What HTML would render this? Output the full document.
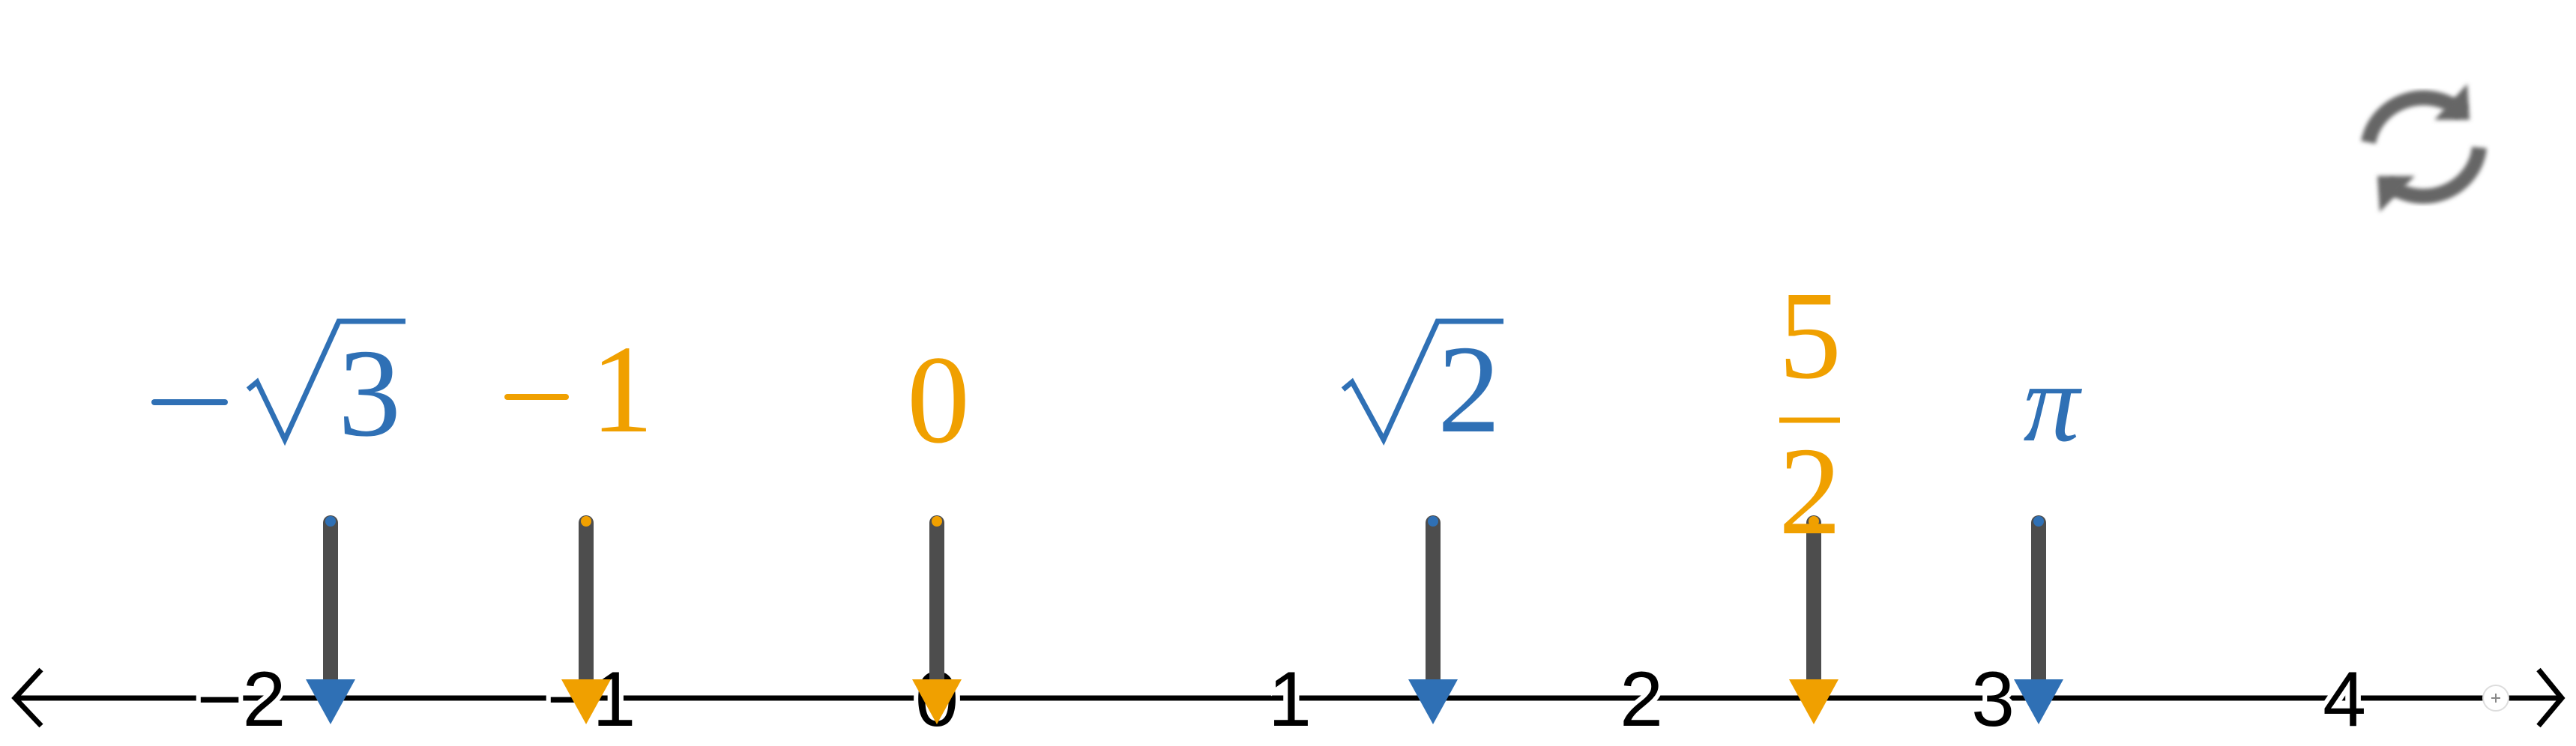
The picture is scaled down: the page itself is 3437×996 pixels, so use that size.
<!DOCTYPE html>
<html><head><meta charset="utf-8"><style>
html,body{margin:0;padding:0;background:#fff;}
svg{display:block}
</style></head><body>
<svg width="3437" height="996" viewBox="0 0 3437 996" xmlns="http://www.w3.org/2000/svg">
<rect width="3437" height="996" fill="#fff"/>
<!-- refresh icon -->
<g fill="none" stroke="#666" stroke-width="20" filter="url(#bl)">
<path d="M3160 190 A75 72 0 0 1 3285 150"/>
<path d="M3308 197 A75 72 0 0 1 3185 245"/>
</g>
<g fill="#666" filter="url(#bl)">
<polygon points="3292,112 3295,160 3248,160"/>
<polygon points="3175,283 3172,235 3222,235"/>
</g>
<defs><filter id="bl"><feGaussianBlur stdDeviation="3"/></filter></defs>
<!-- axis -->
<line x1="20" y1="932" x2="3418" y2="932" stroke="#000" stroke-width="7"/>
<polyline points="55,894 20,932 55,969" fill="none" stroke="#000" stroke-width="7"/>
<polyline points="3387,894 3418,932 3387,969" fill="none" stroke="#000" stroke-width="7"/>
<circle cx="3330" cy="932" r="17" fill="#fff" stroke="#ddd" stroke-width="2"/>
<g stroke="#888" stroke-width="2"><line x1="3324" y1="932" x2="3336" y2="932"/><line x1="3330" y1="926" x2="3330" y2="938"/></g>
<!-- tick labels -->
<g font-family="Liberation Sans, sans-serif" font-size="104" text-anchor="middle" fill="#000" stroke="#fff" stroke-width="12" paint-order="stroke" >
<text x="322" y="969">−2</text>
<text x="789" y="969">−1</text>
<text x="1250" y="969">0</text>
<text x="1721" y="969">1</text>
<text x="2190" y="969">2</text>
<text x="2659" y="969">3</text>
<text x="3128" y="969">4</text>
</g>
<!-- sticks -->
<g stroke="#4d4d4d" stroke-width="20" stroke-linecap="round">
<line x1="441" y1="698" x2="441" y2="912"/>
<line x1="782" y1="698" x2="782" y2="912"/>
<line x1="1250" y1="698" x2="1250" y2="912"/>
<line x1="1912" y1="698" x2="1912" y2="912"/>
<line x1="2420" y1="698" x2="2420" y2="912"/>
<line x1="2720" y1="698" x2="2720" y2="912"/>
</g>
<circle cx="441" cy="696" r="7" fill="#2f70b5"/>
<circle cx="782" cy="696" r="7" fill="#f0a000"/>
<circle cx="1250" cy="696" r="7" fill="#f0a000"/>
<circle cx="1912" cy="696" r="7" fill="#2f70b5"/>
<circle cx="2420" cy="696" r="7" fill="#f0a000"/>
<circle cx="2720" cy="696" r="7" fill="#2f70b5"/>
<polygon points="408,907 474,907 441,967" fill="#2f70b5"/>
<polygon points="749,907 815,907 782,967" fill="#f0a000"/>
<polygon points="1217,907 1283,907 1250,967" fill="#f0a000"/>
<polygon points="1879,907 1945,907 1912,967" fill="#2f70b5"/>
<polygon points="2387,907 2453,907 2420,967" fill="#f0a000"/>
<polygon points="2687,907 2753,907 2720,967" fill="#2f70b5"/>
<!-- math labels -->
<g font-family="Liberation Serif, serif" font-size="168">
<!-- -sqrt3 -->
<line x1="206" y1="537" x2="300" y2="537" stroke="#2f70b5" stroke-width="8" stroke-linecap="round"/>
<polyline points="331,520 343,510 380,587 452,429 541,429" fill="none" stroke="#2f70b5" stroke-width="7"/>
<text x="493" y="581" text-anchor="middle" fill="#2f70b5">3</text>
<!-- -1 -->
<line x1="677" y1="530" x2="755" y2="530" stroke="#f0a000" stroke-width="8" stroke-linecap="round"/>
<text x="830" y="576" text-anchor="middle" fill="#f0a000">1</text>
<!-- 0 -->
<text x="1252" y="590" text-anchor="middle" fill="#f0a000">0</text>
<!-- sqrt2 -->
<polyline points="1792,520 1804,510 1846,587 1918,429 2006,429" fill="none" stroke="#2f70b5" stroke-width="7"/>
<text x="1960" y="576" text-anchor="middle" fill="#2f70b5">2</text>
<!-- 5/2 -->
<text x="2415" y="504" text-anchor="middle" fill="#f0a000">5</text>
<line x1="2374" y1="561" x2="2455" y2="561" stroke="#f0a000" stroke-width="7"/>
<text x="2415" y="712" text-anchor="middle" fill="#f0a000">2</text>
<!-- pi -->
<text x="2737" y="588" text-anchor="middle" fill="#2f70b5" font-style="italic" font-size="150">π</text>
</g>
</svg>
</body></html>
